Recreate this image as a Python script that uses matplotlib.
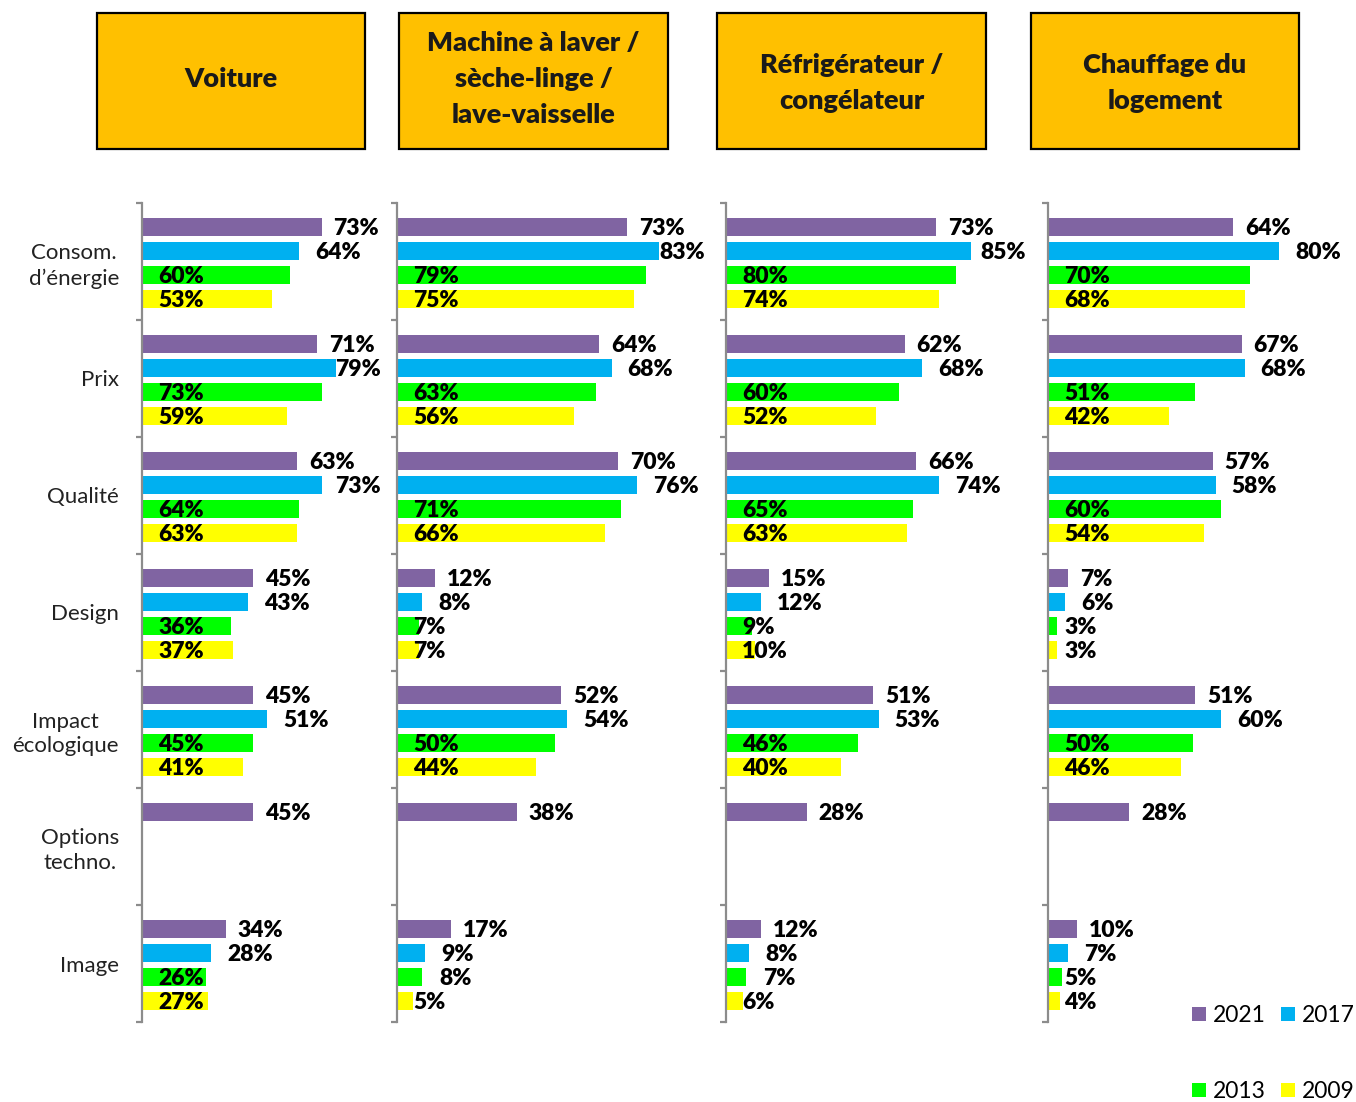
import matplotlib
matplotlib.use("Agg")
import matplotlib.pyplot as plt
from matplotlib.patches import Rectangle

plt.rcParams['font.family'] = ['Lato', 'DejaVu Sans']

# ---------------- data ----------------
panels = ["Voiture",
          "Machine à laver /\nsèche-linge /\nlave-vaisselle",
          "Réfrigérateur /\ncongélateur",
          "Chauffage du\nlogement"]
categories = ["Consom.\nd’énergie", "Prix", "Qualité", "Design",
              "Impact\nécologique", "Options\ntechno.", "Image"]
series = ["2021", "2017", "2013", "2009"]
colors = ["#8064A2", "#00B0F0", "#00FF00", "#FFFF00"]

voiture_2021 = [73, 71, 63, 45, 45, 45, 34]
voiture_2017 = [64, 79, 73, 43, 51, None, 28]
voiture_2013 = [60, 73, 64, 36, 45, None, 26]
voiture_2009 = [53, 59, 63, 37, 41, None, 27]

machine_2021 = [73, 64, 70, 12, 52, 38, 17]
machine_2017 = [83, 68, 76, 8, 54, None, 9]
machine_2013 = [79, 63, 71, 7, 50, None, 8]
machine_2009 = [75, 56, 66, 7, 44, None, 5]

frigo_2021 = [73, 62, 66, 15, 51, 28, 12]
frigo_2017 = [85, 68, 74, 12, 53, None, 8]
frigo_2013 = [80, 60, 65, 9, 46, None, 7]
frigo_2009 = [74, 52, 63, 10, 40, None, 6]

chauffage_2021 = [64, 67, 57, 7, 51, 28, 10]
chauffage_2017 = [80, 68, 58, 6, 60, None, 7]
chauffage_2013 = [70, 51, 60, 3, 50, None, 5]
chauffage_2009 = [68, 42, 54, 3, 46, None, 4]

panel_data = [
    [voiture_2021, voiture_2017, voiture_2013, voiture_2009],
    [machine_2021, machine_2017, machine_2013, machine_2009],
    [frigo_2021, frigo_2017, frigo_2013, frigo_2009],
    [chauffage_2021, chauffage_2017, chauffage_2013, chauffage_2009],
]

# ---------------- layout (pixels) ----------------
W, H = 1356, 1102
fig = plt.figure(figsize=(W / 100, H / 100), dpi=100)

def fx(x):
    return x / W

def fy(y):
    return 1 - y / H

axes_px = [(142, 381), (397, 705), (726, 1026), (1048, 1341)]
px_per_pct = [2.46, 3.155, 2.88, 2.89]
ax_top, ax_bot = 203, 1022
header_px = [(97, 365), (399, 668), (717, 986), (1031, 1299)]
header_text_y = [79, 79, 83, 83]
head_top, head_bot = 13, 149

# labels of 2013/2009 that Excel placed outside the bar end
outside_low = {(1, 6, 2), (2, 6, 2)}

ncat = len(categories)
band_px = (ax_bot - ax_top) / ncat
bar_h = 18 / band_px
offsets = [24 / band_px * (j + 1) for j in range(4)]
txt_dy = 1.5 / band_px

renderer = fig.canvas.get_renderer()
lab_fs = 16.5
lab_w = 'heavy'

for p, (x0, x1) in enumerate(axes_px):
    ax = fig.add_axes([fx(x0), fy(ax_bot), fx(x1) - fx(x0), (ax_bot - ax_top) / H])
    xmax = (x1 - x0) / px_per_pct[p]
    ax.set_xlim(0, xmax)
    ax.set_ylim(ncat, 0)
    sc = px_per_pct[p]
    for j, vals in enumerate(panel_data[p]):
        for i, v in enumerate(vals):
            if v is None:
                continue
            y = i + offsets[j]
            ax.barh(y, v, height=bar_h, color=colors[j], edgecolor='none', zorder=2)
            txt = f"{v}%"
            if j < 2 or (p, i, j) in outside_low:
                gap = {0: 12, 1: 16, 2: 17, 3: 17}[j]
                xl = v + gap / sc
                t = ax.text(xl, y + txt_dy, txt, ha='left', va='center', fontsize=lab_fs,
                            fontweight=lab_w, color='black', zorder=3)
                bb = t.get_window_extent(renderer)
                axbb = ax.get_window_extent(renderer)
                if bb.x1 > axbb.x1:
                    t.set_ha('right')
                    t.set_x(xmax)
            else:
                ax.text(16 / sc, y + txt_dy, txt, ha='left', va='center', fontsize=lab_fs,
                        fontweight=lab_w, color='black', zorder=3)
    for s in ['top', 'right', 'bottom']:
        ax.spines[s].set_visible(False)
    ax.spines['left'].set_color('#8C8C8C')
    ax.spines['left'].set_linewidth(1.6)
    ax.set_xticks([])
    ax.set_yticks([i + 0.5 for i in range(ncat)])
    if p == 0:
        ax.set_yticklabels(categories, fontsize=16, color='#222222',
                           multialignment='center', linespacing=1.3)
    else:
        ax.set_yticklabels([])
    ax.tick_params(axis='y', which='major', length=0, pad=16.5)
    ax.set_yticks(list(range(ncat + 1)), minor=True)
    ax.tick_params(axis='y', which='minor', length=4.5, width=1.6, color='#8C8C8C')
    ax.patch.set_alpha(0)

    # header box
    hx0, hx1 = header_px[p]
    fig.patches.append(Rectangle((fx(hx0), fy(head_bot)), fx(hx1) - fx(hx0),
                                 (head_bot - head_top) / H, transform=fig.transFigure,
                                 facecolor='#FFC000', edgecolor='black', linewidth=1.6))
    fig.text(fx((hx0 + hx1) / 2), fy(header_text_y[p]), panels[p], ha='center',
             va='center', fontsize=19.5, fontweight='heavy', color='#1a1a1a',
             linespacing=1.62, multialignment='center')

# legend (manual, two rows)
leg_pos = [(1192, 1014), (1281, 1014), (1192, 1090), (1281, 1090)]
for k, (lx, ly) in enumerate(leg_pos):
    fig.patches.append(Rectangle((fx(lx), fy(ly + 7)), 14 / W, 14 / H,
                                 transform=fig.transFigure, facecolor=colors[k],
                                 edgecolor='none'))
    fig.text(fx(lx + 21), fy(ly + 1), series[k], ha='left', va='center',
             fontsize=16.5, color='black')

fig.savefig("out.png", dpi=100)
